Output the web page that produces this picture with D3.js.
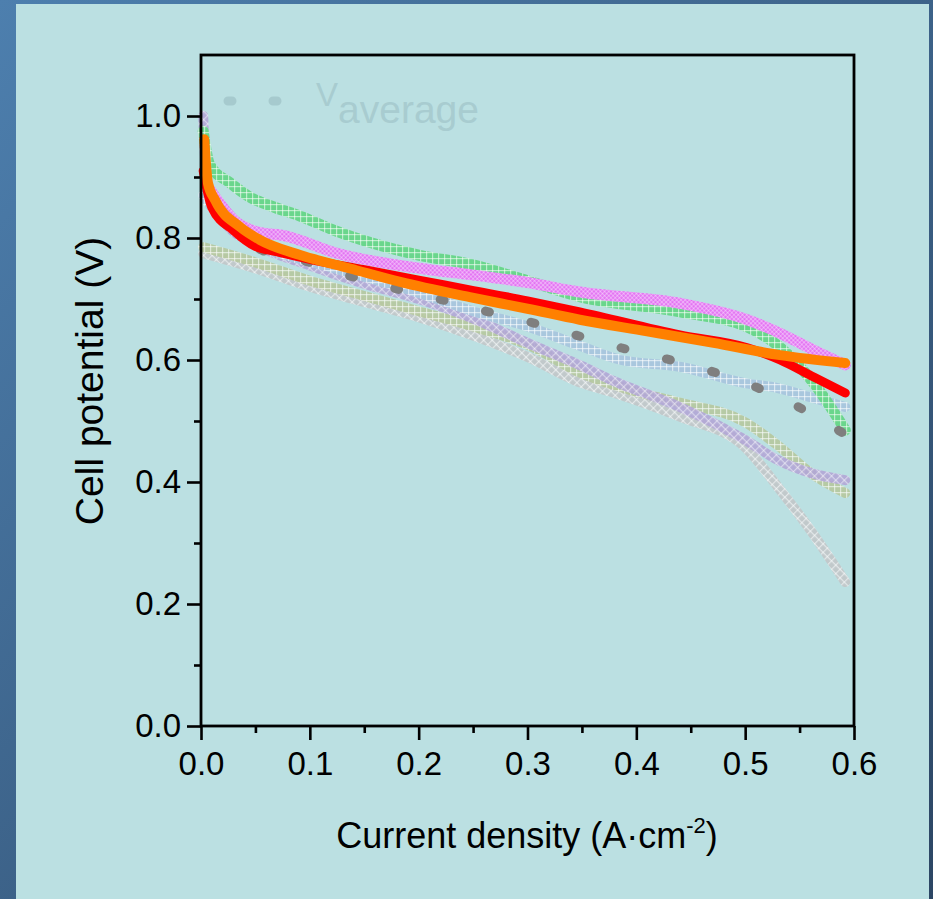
<!DOCTYPE html>
<html>
<head>
<meta charset="utf-8">
<script src="https://cdn.jsdelivr.net/npm/d3@7"></script>
<style>
  html, body { margin: 0; padding: 0; background: #3a6088; }
  svg { display: block; }
</style>
</head>
<body>
<svg id="chart" width="933" height="899"></svg>
<script>
// ---------- data ----------
const xTicks = [0.0, 0.1, 0.2, 0.3, 0.4, 0.5, 0.6];
const yTicks = [0.0, 0.2, 0.4, 0.6, 0.8, 1.0];
const xMinorTicks = [0.05, 0.15, 0.25, 0.35, 0.45, 0.55];
const yMinorTicks = [0.1, 0.3, 0.5, 0.7, 0.9];
const xLabel = "Current density (A·cm";
const xLabelSup = "-2";
const yLabel = "Cell potential (V)";
const legendLabel = "V";
const legendSub = "average";

const grayX   = [0.002, 0.05, 0.1, 0.15, 0.2, 0.25, 0.3, 0.35, 0.38, 0.44, 0.5, 0.53, 0.56, 0.592];
const grayY   = [0.775, 0.75, 0.72, 0.695, 0.67, 0.64, 0.605, 0.562, 0.546, 0.507, 0.457, 0.392, 0.321, 0.236];
const oliveX  = [0.002, 0.05, 0.1, 0.15, 0.2, 0.25, 0.3, 0.35, 0.4, 0.44, 0.5, 0.53, 0.56, 0.592];
const oliveY  = [0.785, 0.76, 0.73, 0.705, 0.68, 0.655, 0.625, 0.578, 0.548, 0.53, 0.498, 0.46, 0.415, 0.382];
const purpleX = [0.002, 0.005, 0.02, 0.05, 0.1, 0.15, 0.2, 0.25, 0.3, 0.35, 0.38, 0.44, 0.5, 0.53, 0.56, 0.592];
const purpleY = [1.0, 0.9, 0.83, 0.79, 0.755, 0.725, 0.70, 0.668, 0.628, 0.59, 0.565, 0.523, 0.469, 0.436, 0.415, 0.403];
const blueX   = [0.002, 0.01, 0.027, 0.05, 0.073, 0.119, 0.2, 0.25, 0.3, 0.35, 0.386, 0.44, 0.5, 0.53, 0.56, 0.592];
const blueY   = [0.87, 0.85, 0.83, 0.79, 0.775, 0.752, 0.71, 0.68, 0.655, 0.622, 0.60, 0.589, 0.562, 0.554, 0.539, 0.523];
const greenX  = [0.002, 0.008, 0.027, 0.045, 0.068, 0.091, 0.123, 0.2, 0.247, 0.3, 0.348, 0.44, 0.502, 0.532, 0.563, 0.592];
const greenY  = [0.975, 0.92, 0.89, 0.867, 0.85, 0.836, 0.812, 0.772, 0.757, 0.73, 0.704, 0.679, 0.654, 0.621, 0.562, 0.485];
const magentaX = [0.008, 0.03, 0.057, 0.073, 0.125, 0.21, 0.247, 0.3, 0.35, 0.44, 0.502, 0.532, 0.563, 0.592];
const magentaY = [0.88, 0.83, 0.808, 0.805, 0.775, 0.748, 0.74, 0.727, 0.711, 0.693, 0.666, 0.644, 0.616, 0.592];
const avgX    = [0.002, 0.01, 0.03, 0.05, 0.1, 0.14, 0.181, 0.223, 0.264, 0.305, 0.346, 0.386, 0.427, 0.468, 0.508, 0.549, 0.59];
const avgY    = [0.93, 0.86, 0.81, 0.785, 0.76, 0.736, 0.716, 0.698, 0.679, 0.661, 0.64, 0.62, 0.602, 0.582, 0.557, 0.523, 0.48];
const redX    = [0.002, 0.01, 0.03, 0.05, 0.068, 0.1, 0.15, 0.2, 0.247, 0.3, 0.348, 0.44, 0.502, 0.532, 0.563, 0.592];
const redY    = [0.91, 0.85, 0.812, 0.786, 0.778, 0.765, 0.748, 0.731, 0.715, 0.697, 0.679, 0.641, 0.62, 0.60, 0.572, 0.546];
const orangeX = [0.003, 0.0064, 0.013, 0.036, 0.054, 0.091, 0.137, 0.183, 0.247, 0.3, 0.348, 0.41, 0.471, 0.532, 0.592];
const orangeY = [0.962, 0.89, 0.862, 0.818, 0.797, 0.772, 0.75, 0.728, 0.703, 0.684, 0.666, 0.647, 0.628, 0.608, 0.595];

// ---------- layout ----------
const svg = d3.select("#chart");
const W = 933, H = 899;
const plot = { left: 201, right: 854, top: 55, bottom: 726 };

const x = d3.scaleLinear().domain([0, 0.6]).range([plot.left, plot.right]);
const y = d3.scaleLinear().domain([0, 1.1]).range([plot.bottom, plot.top]);

const defs = svg.append("defs");
const bg = defs.append("linearGradient").attr("id", "bgGrad")
  .attr("x1", "0").attr("y1", "0").attr("x2", "1").attr("y2", "1");
bg.append("stop").attr("offset", "0%").attr("stop-color", "#4d7fae");
bg.append("stop").attr("offset", "100%").attr("stop-color", "#2c4664");

svg.append("rect").attr("width", W).attr("height", H).attr("fill", "url(#bgGrad)");
svg.append("rect").attr("x", 16).attr("y", 4).attr("width", 913).attr("height", H - 4)
  .attr("fill", "#bbe0e2");

// hatch patterns
function hatch(id, color, size, angle, op) {
  const p = defs.append("pattern").attr("id", id)
    .attr("patternUnits", "userSpaceOnUse")
    .attr("width", size).attr("height", size)
    .attr("patternTransform", `rotate(${angle})`);
  p.append("rect").attr("width", size).attr("height", size).attr("fill", color);
  p.append("rect").attr("x", 0).attr("y", 0).attr("width", 1.2).attr("height", size)
    .attr("fill", "#ffffff").attr("fill-opacity", op);
  p.append("rect").attr("x", 0).attr("y", 0).attr("width", size).attr("height", 1.2)
    .attr("fill", "#ffffff").attr("fill-opacity", op);
}
hatch("hGray", "#c2c6c8", 6, 45, 0.6);
hatch("hOlive", "#b6c89e", 6, 0, 0.6);
hatch("hPurple", "#b2a6d6", 6, 45, 0.5);
hatch("hBlue", "#a8c6de", 6, 0, 0.6);
hatch("hGreen", "#6ad68c", 6, 0, 0.55);
hatch("hMagenta", "#e26ef2", 3, 45, 0.35);

const line = d3.line().x(d => x(d[0])).y(d => y(d[1])).curve(d3.curveMonotoneX);
const zip = (a, b) => a.map((v, i) => [v, b[i]]);

const g = svg.append("g");
function band(xs, ys, pat, w, op) {
  g.append("path").datum(zip(xs, ys)).attr("d", line)
    .attr("fill", "none").attr("stroke", `url(#${pat})`)
    .attr("stroke-width", w).attr("stroke-linecap", "round").attr("stroke-linejoin", "round")
    .attr("opacity", op);
}
band(grayX, grayY, "hGray", 10, 0.9);
band(oliveX, oliveY, "hOlive", 10, 0.9);
band(purpleX, purpleY, "hPurple", 10, 0.9);
band(blueX, blueY, "hBlue", 10, 0.95);
band(greenX, greenY, "hGreen", 11, 1);
band(magentaX, magentaY, "hMagenta", 11, 1);

// average dotted
const avgPath = g.append("path").datum(zip(avgX, avgY)).attr("d", line)
  .attr("fill", "none").attr("stroke", "#7f7f7f").attr("stroke-width", 9)
  .attr("stroke-linecap", "round");
const period = 46.8, dash = 4;
const L = avgPath.node().getTotalLength();
const r = (L - dash - 1.5) % period;
avgPath.attr("stroke-dasharray", `${dash},${period - dash}`).attr("stroke-dashoffset", -r);

g.append("path").datum(zip(redX, redY)).attr("d", line)
  .attr("fill", "none").attr("stroke", "#ff0000").attr("stroke-width", 9)
  .attr("stroke-linecap", "round").attr("stroke-linejoin", "round");
g.append("path").datum(zip(orangeX, orangeY)).attr("d", line)
  .attr("fill", "none").attr("stroke", "#ff8000").attr("stroke-width", 10)
  .attr("stroke-linecap", "round").attr("stroke-linejoin", "round");

// frame
svg.append("rect").attr("x", plot.left).attr("y", plot.top)
  .attr("width", plot.right - plot.left).attr("height", plot.bottom - plot.top)
  .attr("fill", "none").attr("stroke", "#000").attr("stroke-width", 2.8);

// axes
const font = "'Liberation Sans', Arial, sans-serif";
const xAxis = d3.axisBottom(x).tickValues(xTicks).tickFormat(d3.format(".1f"))
  .tickSize(14).tickPadding(12);
const xa = svg.append("g").attr("transform", `translate(0,${plot.bottom})`).call(xAxis);
const xMinor = d3.axisBottom(x).tickValues(xMinorTicks).tickSize(7).tickFormat("");
const xm = svg.append("g").attr("transform", `translate(0,${plot.bottom})`).call(xMinor);

const yAxis = d3.axisLeft(y).tickValues(yTicks).tickFormat(d3.format(".1f"))
  .tickSize(14).tickPadding(6);
const ya = svg.append("g").attr("transform", `translate(${plot.left},0)`).call(yAxis);
const yMinor = d3.axisLeft(y).tickValues(yMinorTicks).tickSize(7).tickFormat("");
const ym = svg.append("g").attr("transform", `translate(${plot.left},0)`).call(yMinor);

[xa, xm, ya, ym].forEach(a => {
  a.select(".domain").remove();
  a.selectAll(".tick line").attr("stroke", "#000").attr("stroke-width", 2.6);
  a.selectAll(".tick text").attr("fill", "#000").style("font-family", font).style("font-size", "33px");
});

// axis titles
const xt = svg.append("text").attr("x", 527).attr("y", 848).attr("text-anchor", "middle")
  .style("font-family", font).style("font-size", "36px").attr("fill", "#000");
xt.append("tspan").text(xLabel);
xt.append("tspan").attr("dy", -15).style("font-size", "22px").text(xLabelSup);
xt.append("tspan").attr("dy", 15).text(")");

svg.append("text").attr("transform", "translate(103,381) rotate(-90)").attr("text-anchor", "middle")
  .style("font-family", font).style("font-size", "39px").attr("fill", "#000").text(yLabel);

// faint legend
const lg = svg.append("g");
lg.append("line").attr("x1", 228).attr("x2", 283).attr("y1", 101).attr("y2", 101)
  .attr("stroke", "#a6cace").attr("stroke-width", 9).attr("stroke-linecap", "round")
  .attr("stroke-dasharray", "4,41");
const lt = lg.append("text").attr("x", 316).attr("y", 106)
  .style("font-family", font).attr("fill", "#a8ccd0");
lt.append("tspan").style("font-size", "33px").text(legendLabel);
lt.append("tspan").attr("dy", 17).style("font-size", "39px").text(legendSub);
</script>
</body>
</html>
